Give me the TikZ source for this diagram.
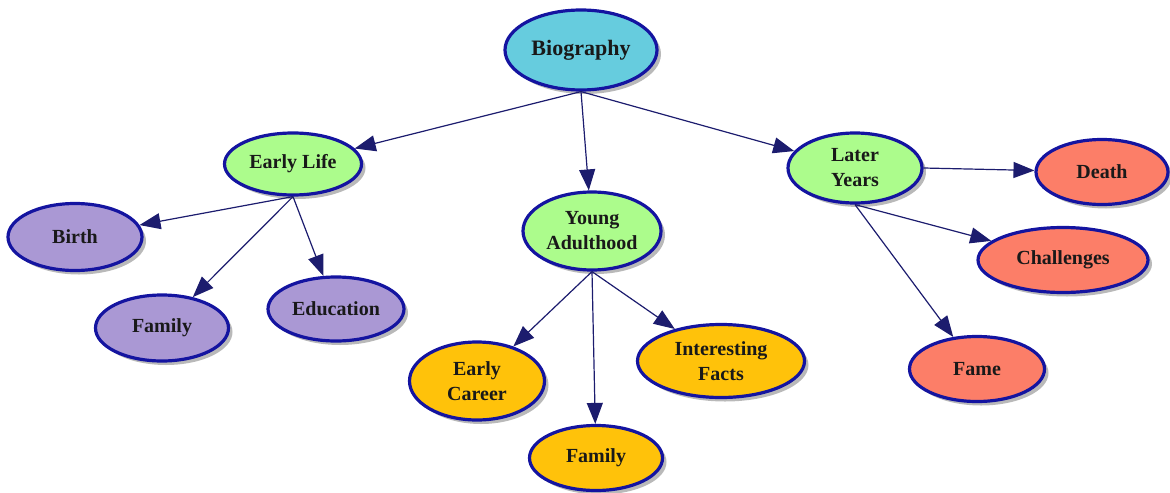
\documentclass[tikz,border=0pt]{standalone}
\usepackage{fontspec}
\setmainfont{Liberation Serif}
\usetikzlibrary{shapes.geometric,arrows.meta,shadows}

\definecolor{rimblue}{RGB}{20,20,160}
\definecolor{linkblue}{RGB}{28,28,110}
\definecolor{biofill}{RGB}{102,204,222}
\definecolor{stagefill}{RGB}{172,252,140}
\definecolor{earlyfill}{RGB}{170,152,212}
\definecolor{youngfill}{RGB}{255,194,10}
\definecolor{laterfill}{RGB}{252,126,104}

\begin{document}
\begin{tikzpicture}[x=0.5pt,y=-0.5pt,
      topic/.style={ellipse,draw=rimblue,line width=1.6pt,inner sep=0pt,
        align=center,text=black!90,font=\bfseries\fontsize{10}{12.5}\selectfont,
        drop shadow={shadow xshift=2pt,shadow yshift=-2pt,fill=black!50,opacity=0.55}},
      dims/.style 2 args={minimum width=#1,minimum height=#2},
      link/.style={draw=linkblue,line width=0.6pt,
        -{Triangle[length=10.5pt,width=8pt,fill=linkblue]}}]

      \useasboundingbox (0,0) rectangle (1170,492);

      \node[topic,fill=biofill,dims={76}{40},font=\bfseries\fontsize{11}{13}\selectfont]
        (bio) at (581,50) {Biography};

      \node[topic,fill=stagefill,dims={68.5}{31}] (early) at (293,164) {Early Life};
      \node[topic,fill=stagefill,dims={69}{39}] (young) at (592,231) {Young\\Adulthood};
      \node[topic,fill=stagefill,dims={67}{35}] (later) at (855,168) {Later\\Years};

      \node[topic,fill=earlyfill,dims={67}{33.5}] (birth) at (75,237) {Birth};
      \node[topic,fill=earlyfill,dims={66.5}{33}] (family-a) at (162,328) {Family};
      \node[topic,fill=earlyfill,dims={68}{32}] (education) at (336,309) {Education};

      \node[topic,fill=youngfill,dims={67.5}{39}] (career) at (477,381) {Early\\Career};
      \node[topic,fill=youngfill,dims={66.5}{32.5}] (family-b) at (596,458) {Family};
      \node[topic,fill=youngfill,dims={83.5}{36.5}] (facts) at (721,361) {Interesting\\Facts};

      \node[topic,fill=laterfill,dims={66}{32.5}] (death) at (1102,172) {Death};
      \node[topic,fill=laterfill,dims={85}{32.5}] (challenges) at (1063,260) {Challenges};
      \node[topic,fill=laterfill,dims={67.5}{32.5}] (fame) at (977,369) {Fame};

      \draw[link] (bio.south) -- (early);
      \draw[link] (bio.south) -- (young);
      \draw[link] (bio.south) -- (later);

      \draw[link] (early.south) -- (birth);
      \draw[link] (early.south) -- (family-a);
      \draw[link] (early.south) -- (education);

      \draw[link] (young.south) -- (career);
      \draw[link] (young.south) -- (family-b);
      \draw[link] (young.south) -- (facts);

      \draw[link] (later.east) -- (death);
      \draw[link] (later.south) -- (challenges);
      \draw[link] (later.south) -- (fame);
    \end{tikzpicture}
\end{document}
